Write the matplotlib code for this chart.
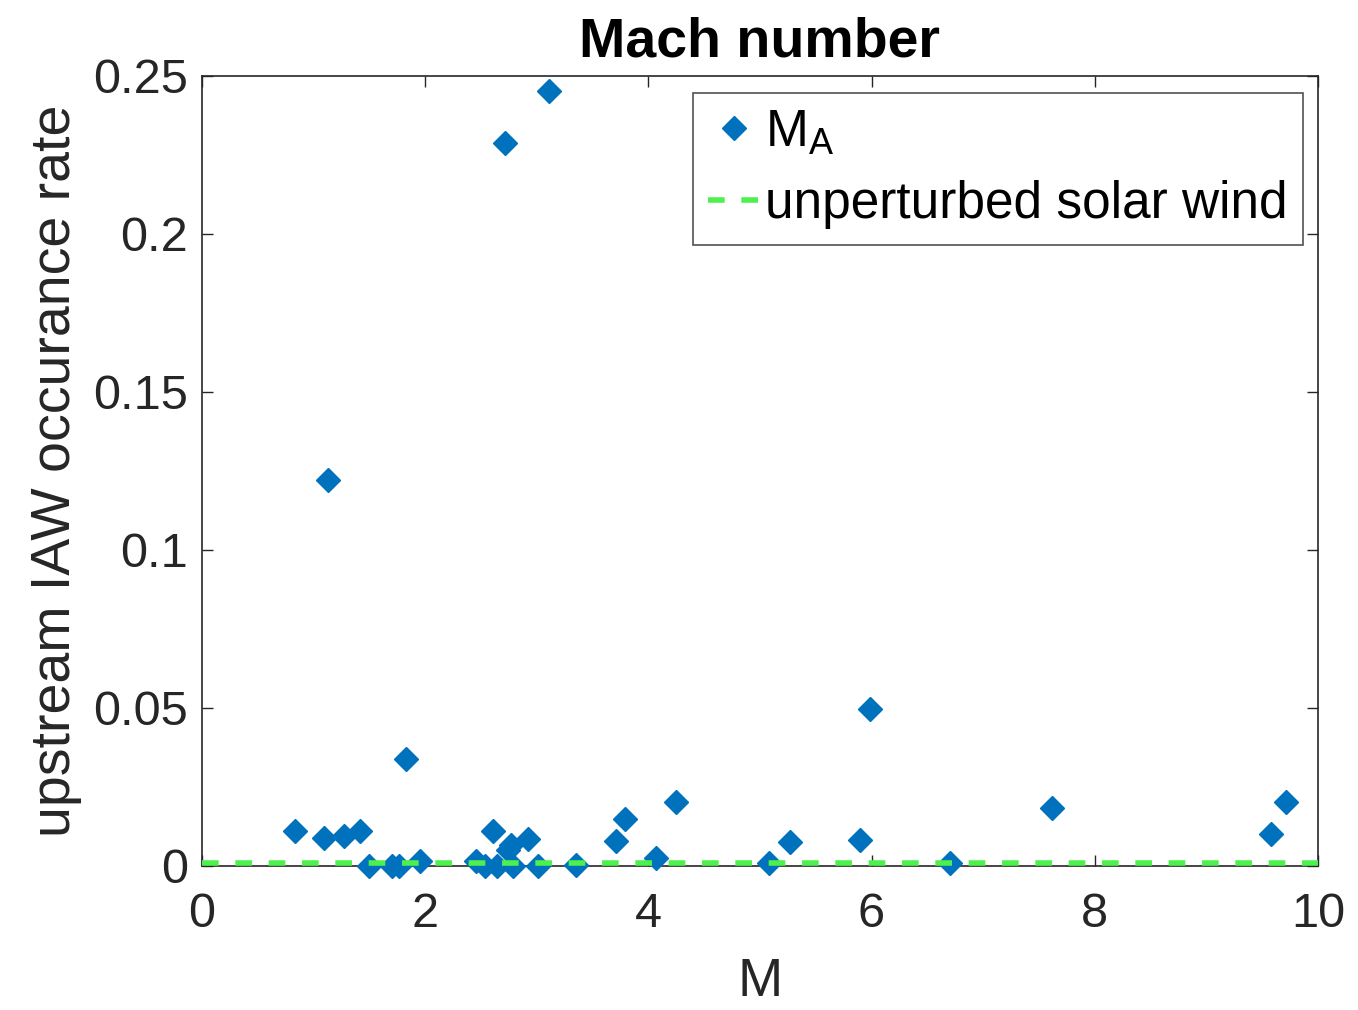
import matplotlib.pyplot as plt
import numpy as np

plt.rcParams['font.family'] = ['Liberation Sans', 'DejaVu Sans']
plt.rcParams['mathtext.fontset'] = 'custom'
plt.rcParams['mathtext.rm'] = 'Liberation Sans'

# Alfvenic Mach number vs upstream IAW occurrence rate
mach = [0.83, 1.13, 1.09, 1.27, 1.42, 1.50, 1.70, 1.77, 1.83, 1.95,
        2.46, 2.54, 2.61, 2.64, 2.72, 2.74, 2.77, 2.79, 2.92, 3.01,
        3.11, 3.35, 3.71, 3.79, 4.07, 4.25, 5.08, 5.27, 5.90, 5.99,
        6.70, 7.62, 9.58, 9.71]
rate = [0.0111, 0.1222, 0.0090, 0.0096, 0.0111, 0.0000, 0.0000, 0.0000, 0.0338, 0.0016,
        0.0016, 0.0000, 0.0110, 0.0000, 0.2288, 0.0050, 0.0066, 0.0000, 0.0084, 0.0000,
        0.2453, 0.0003, 0.0080, 0.0149, 0.0024, 0.0204, 0.0009, 0.0075, 0.0082, 0.0497,
        0.0009, 0.0183, 0.0101, 0.0202]

sw_x = [0, 10]
sw_rate = [0.0008, 0.0008]

txt = '#262626'

fig = plt.figure(figsize=(13.58, 10.10), dpi=100)
ax = fig.add_axes([0.1487, 0.1426, 0.8218, 0.7822])

ax.plot(mach, rate, linestyle='none', marker='D', markersize=12.5,
        color='#0072BD', label=r'$\mathregular{M_A}$', clip_on=False, zorder=3)
ax.plot(sw_x, sw_rate, linestyle=(0, (3, 3)), linewidth=4, color='#4df04d',
        label='unperturbed solar wind', zorder=4)

ax.set_xlim(0, 10)
ax.set_ylim(0, 0.25)
ax.set_xticks([0, 2, 4, 6, 8, 10])
ax.set_yticks([0, 0.05, 0.1, 0.15, 0.2, 0.25])
ax.set_yticklabels(['0', '0.05', '0.1', '0.15', '0.2', '0.25'])
ax.tick_params(direction='in', top=True, right=True, length=8, width=1,
               labelsize=35, color=txt, labelcolor=txt)
ax.tick_params(axis='y', pad=10)
ax.tick_params(axis='x', pad=19)
for s in ax.spines.values():
    s.set_linewidth(1.2)
    s.set_color(txt)

ax.set_xlabel('M', fontsize=39, labelpad=14, color=txt)
ax.set_ylabel('upstream IAW occurance rate', fontsize=40, labelpad=8, color=txt)
ax.set_title('Mach number', fontsize=40, fontweight='bold', pad=14)

leg = ax.legend(loc='upper right', fontsize=37, frameon=True, fancybox=False,
                edgecolor=txt, handlelength=1.0, handletextpad=0.1,
                borderpad=0.3, labelspacing=0.45, borderaxespad=0,
                bbox_to_anchor=(0.9866, 0.9785))
leg.get_frame().set_linewidth(1.2)

fig.savefig('out.png', dpi=100)
